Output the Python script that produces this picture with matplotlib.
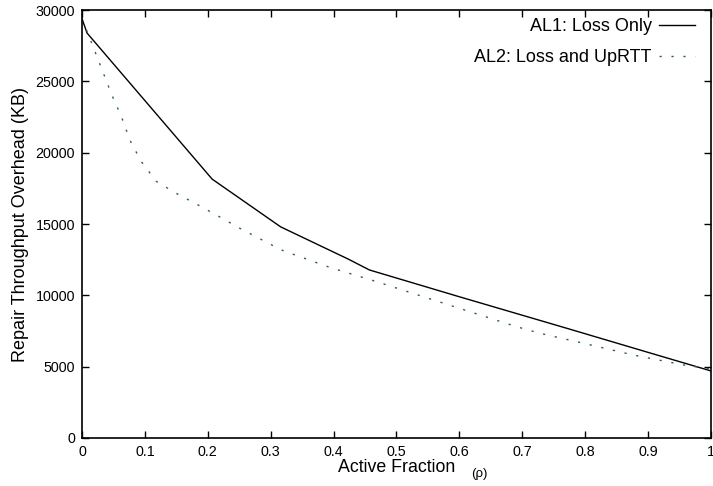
import matplotlib
matplotlib.use("Agg")
from matplotlib import pyplot as plt

plt.rcParams['font.family'] = ['Liberation Sans', 'DejaVu Sans']

# AL1: Loss Only
x_al1 = [0.0, 0.008, 0.207, 0.316, 0.423, 0.457, 0.6, 0.77, 0.9, 1.0]
y_al1 = [29400, 28400, 18150, 14800, 12550, 11780, 9900, 7700, 6000, 4700]

# AL2: Loss and UpRTT
x_al2 = [0.0, 0.01, 0.026, 0.047, 0.063, 0.076, 0.094, 0.118, 0.150, 0.185,
         0.219, 0.251, 0.304, 0.320, 0.394, 0.469, 0.543, 0.617, 0.691,
         0.728, 0.802, 0.876, 0.956, 1.0]
y_al2 = [29400, 28300, 26500, 24100, 22500, 20900, 19400, 18000, 17150, 16330,
         15500, 14700, 13480, 13130, 11960, 10950, 9900, 8850, 7800,
         7340, 6590, 5820, 5120, 4830]

x_ticks = [0, 0.1, 0.2, 0.3, 0.4, 0.5, 0.6, 0.7, 0.8, 0.9, 1]
x_tick_labels = ["0", "0.1", "0.2", "0.3", "0.4", "0.5", "0.6", "0.7", "0.8", "0.9", "1"]
y_ticks = [0, 5000, 10000, 15000, 20000, 25000, 30000]

fig = plt.figure(figsize=(7.13, 4.86), dpi=100)
ax = fig.add_axes([0.115, 0.099, 0.882, 0.880])

ax.plot(x_al1, y_al1, color='black', linewidth=1.0, label="AL1: Loss Only")
ax.plot(x_al2, y_al2, color='#2f5f5f', linewidth=1.0, dashes=(1.6, 7),
        label="AL2: Loss and UpRTT")

ax.set_xlim(0, 1)
ax.set_ylim(0, 30000)
ax.set_xticks(x_ticks)
ax.set_xticklabels(x_tick_labels)
ax.set_yticks(y_ticks)
ax.tick_params(direction='in', top=True, right=True, length=5, width=1,
               labelsize=10.3, pad=5)
for s in ax.spines.values():
    s.set_linewidth(1.2)

ax.set_ylabel("Repair Throughput Overhead (KB)", fontsize=13, labelpad=5)
ax.set_xlabel("Active Fraction", fontsize=12.8, labelpad=0)
fig.text(0.672, 0.024, "(ρ)", fontsize=9.5, ha='center', va='center')

ax.legend(loc='upper right', bbox_to_anchor=(0.975, 0.981), frameon=False,
          markerfirst=False, fontsize=13, handlelength=2.0, handletextpad=0.4,
          borderaxespad=0, borderpad=0, labelspacing=0.78)

fig.savefig("out.png", dpi=100)
